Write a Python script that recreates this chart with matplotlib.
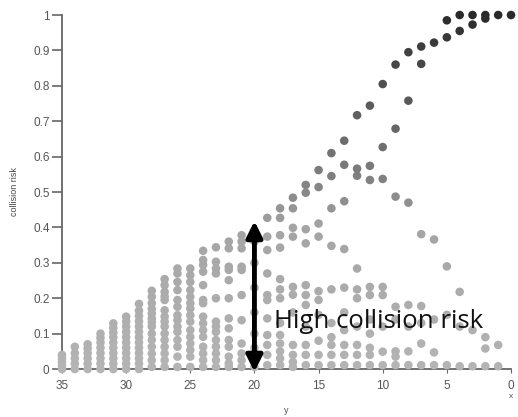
import matplotlib.pyplot as plt
import numpy as np

# y (longitudinal distance) columns and the collision risk values in each column
far_y = [35, 34, 33, 32, 31, 30, 29, 28, 27, 26, 25, 24, 23, 22, 21]
far_risk = [
    [0.0, 0.01, 0.02, 0.03, 0.04],
    [0.0, 0.015, 0.03, 0.045, 0.063],
    [0.0, 0.015, 0.03, 0.045, 0.058, 0.07],
    [0.0, 0.015, 0.03, 0.045, 0.06, 0.075, 0.088, 0.1],
    [0.0, 0.015, 0.03, 0.045, 0.06, 0.075, 0.09, 0.103, 0.116, 0.129],
    [0.0, 0.015, 0.03, 0.045, 0.06, 0.075, 0.09, 0.105, 0.12, 0.134, 0.148],
    [0.0, 0.015, 0.03, 0.045, 0.06, 0.075, 0.09, 0.105, 0.12, 0.135, 0.15, 0.165, 0.184],
    [0.006, 0.025, 0.044, 0.063, 0.082, 0.1, 0.12, 0.132, 0.143, 0.157, 0.17, 0.186, 0.204, 0.221],
    [0.006, 0.025, 0.044, 0.063, 0.082, 0.1, 0.12, 0.134, 0.148, 0.166, 0.195, 0.205, 0.218, 0.237, 0.254],
    [0.006, 0.035, 0.063, 0.082, 0.105, 0.12, 0.138, 0.152, 0.176, 0.195, 0.223, 0.246, 0.27, 0.284],
    [0.006, 0.035, 0.054, 0.072, 0.091, 0.11, 0.134, 0.152, 0.171, 0.186, 0.204, 0.223, 0.246, 0.265, 0.284],
    [0.006, 0.025, 0.044, 0.063, 0.091, 0.11, 0.129, 0.148, 0.186, 0.195, 0.237, 0.275, 0.294, 0.308, 0.334],
    [0.006, 0.025, 0.044, 0.063, 0.082, 0.105, 0.12, 0.134, 0.2, 0.27, 0.284, 0.303, 0.344],
    [0.006, 0.016, 0.035, 0.063, 0.082, 0.115, 0.143, 0.2, 0.251, 0.28, 0.289, 0.341, 0.36],
    [0.006, 0.025, 0.044, 0.072, 0.138, 0.209, 0.28, 0.289, 0.341, 0.36, 0.378],
]

mid_y = [20, 19, 18, 17, 16, 15, 14, 13, 12, 11]
mid_risk = [
    [0.006, 0.03, 0.06, 0.1, 0.16, 0.23, 0.3, 0.36, 0.39],
    [0.011, 0.04, 0.068, 0.096, 0.143, 0.195, 0.209, 0.27, 0.336, 0.374, 0.427],
    [0.011, 0.03, 0.05, 0.072, 0.096, 0.13, 0.2, 0.225, 0.254, 0.343, 0.378, 0.427, 0.454],
    [0.006, 0.02, 0.04, 0.068, 0.16, 0.21, 0.232, 0.374, 0.399, 0.454, 0.484],
    [0.011, 0.04, 0.068, 0.12, 0.181, 0.209, 0.237, 0.355, 0.395, 0.498, 0.52],
    [0.011, 0.04, 0.08, 0.153, 0.195, 0.22, 0.374, 0.411, 0.514, 0.562],
    [0.011, 0.04, 0.068, 0.09, 0.13, 0.225, 0.348, 0.454, 0.545, 0.61],
    [0.011, 0.04, 0.068, 0.11, 0.16, 0.23, 0.339, 0.474, 0.577, 0.645],
    [0.011, 0.04, 0.068, 0.12, 0.2, 0.225, 0.284, 0.546, 0.566, 0.717],
    [0.011, 0.04, 0.06, 0.1, 0.14, 0.209, 0.232, 0.534, 0.574, 0.744],
]

near_y = [10, 9, 8, 7, 6, 5, 4, 3, 2, 1, 0]
near_risk = [
    [0.011, 0.049, 0.12, 0.209, 0.232, 0.537, 0.627, 0.805],
    [0.011, 0.035, 0.05, 0.14, 0.176, 0.487, 0.679, 0.86],
    [0.011, 0.05, 0.12, 0.181, 0.47, 0.758, 0.895],
    [0.011, 0.072, 0.13, 0.178, 0.381, 0.862, 0.911],
    [0.011, 0.047, 0.14, 0.366, 0.922],
    [0.011, 0.153, 0.29, 0.937, 0.985],
    [0.008, 0.12, 0.218, 0.955, 1.0],
    [0.008, 0.11, 0.973, 1.0],
    [0.008, 0.058, 0.09, 0.99, 1.0],
    [0.008, 0.068, 1.0],
    [1.0],
]

xs, vs = [], []
for cols, risks in [(far_y, far_risk), (mid_y, mid_risk), (near_y, near_risk)]:
    for y, col in zip(cols, risks):
        xs += [y] * len(col)
        vs += col
xs = np.array(xs)
vs = np.array(vs)

# darker grey for higher risk
grey = np.interp(vs, [0, 0.4, 0.5, 0.62, 0.75, 0.9, 1.0],
                 [180, 164, 136, 112, 90, 64, 42]) / 255.0
colors = np.stack([grey, grey, grey], axis=1)

fig = plt.figure(figsize=(5.18, 4.17), dpi=100)
ax = fig.add_axes([0.1197, 0.115, 0.8668, 0.849])

order = np.argsort(-vs)
ax.scatter(xs[order], vs[order], s=38, c=colors[order], edgecolors='none',
           clip_on=False, zorder=3)

ax.set_xlim(35, 0)
ax.set_ylim(0, 1)
ax.set_xticks([35, 30, 25, 20, 15, 10, 5, 0])
ax.set_yticks(np.arange(0, 1.01, 0.1))
ax.set_yticklabels(['0', '0.1', '0.2', '0.3', '0.4', '0.5', '0.6', '0.7', '0.8', '0.9', '1'])

for s in ['top', 'right']:
    ax.spines[s].set_visible(False)
for s in ['left', 'bottom']:
    ax.spines[s].set_color('#666666')
    ax.spines[s].set_linewidth(1.3)
    ax.spines[s].set_zorder(2)

ax.tick_params(axis='y', direction='out', length=7, width=1.2, color='#666666',
               labelsize=8.5, labelcolor='#555555', pad=2)
ax.tick_params(axis='x', direction='out', length=3, width=0.8, color='#666666',
               labelsize=8.5, labelcolor='#555555', pad=5)
for lab in ax.get_xticklabels() + ax.get_yticklabels():
    lab.set_fontfamily('Liberation Sans')

ax.set_ylabel('collision risk', fontsize=6.5, color='#444444', labelpad=10,
              fontfamily='Liberation Sans')
ax.set_xlabel('y', fontsize=6.5, color='#555555', labelpad=10,
              fontfamily='Liberation Sans')
ax.text(0, -0.068, 'x', fontsize=6, color='#555555', ha='center', va='top',
        fontfamily='Liberation Sans')

# double headed arrow marking the high risk region
ax.annotate('', xy=(20, 0.418), xytext=(20, -0.008),
            arrowprops=dict(arrowstyle='<|-|>', color='black', lw=3.5,
                            mutation_scale=24, shrinkA=0, shrinkB=0),
            zorder=5, annotation_clip=False)
ax.text(18.5, 0.116, 'High collision risk', fontsize=18.5, color='#111111',
        ha='left', va='baseline', fontfamily='Open Sans', zorder=6)

plt.savefig('out.png', dpi=100)
